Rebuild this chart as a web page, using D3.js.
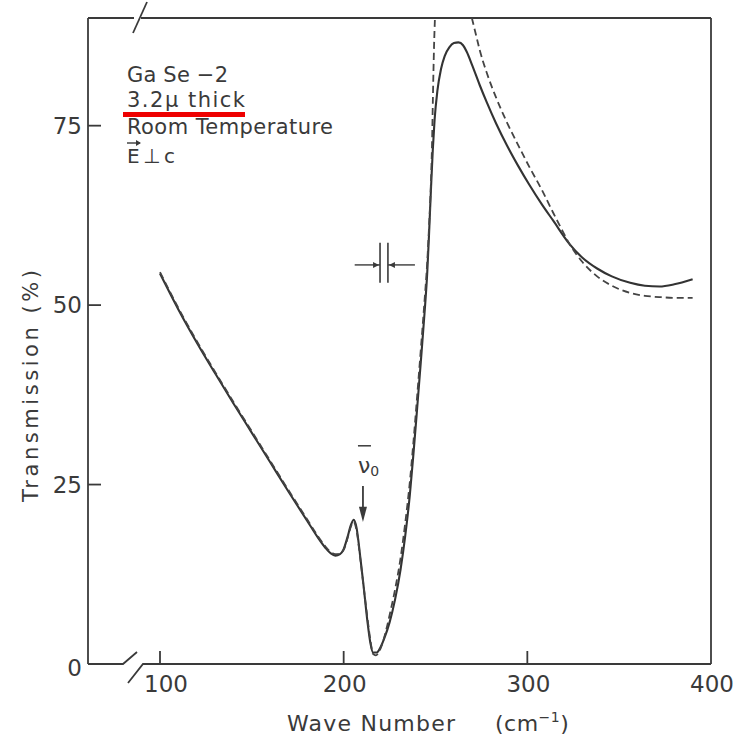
<!DOCTYPE html>
<html><head><meta charset="utf-8">
<script src="https://cdn.jsdelivr.net/npm/d3@7"></script>
<style>body{margin:0;background:#fff}</style>
</head><body><svg id="c" width="750" height="737"></svg>
<script>
// ---- data ----
const waveSolid  = [100,110,120,130,140,150,160,170,180,186,190,193,195.5,198,200,202,204,205.5,207,209,211,213,214.5,216,218,220,222,225,228,231,233.5,236,238,240,242,244,245.5,246.5,247.5,248.5,249.5,251,253,255,257.5,260,262.5,265,267,270,274,278,283,289,295,301,308,314,323,330,338,346,356,364,372,380,390];
const transSolid = [54.4,49.4,44.8,40.5,36.3,32.2,28.1,24,20,17.6,16.2,15.4,15.1,15.3,16,17.6,19.4,20.1,19,15,10.5,5.8,3,1.6,1.6,2.3,3.5,5.8,9,13.2,17.8,23.5,29.3,35.6,42.1,48.8,54.5,60,66,71.5,75.8,79.8,82.9,84.7,85.9,86.5,86.6,86.2,85.3,83.4,80.7,78.2,75.3,72.2,69.4,66.8,64,61.8,58.5,56.6,55.1,54,53.1,52.7,52.6,52.9,53.6];

const waveDashedLow  = [100,110,120,130,140,150,160,170,180,186,190,193,195.5,198,200,202,204,205.5,207,209,211,213,214.5,216,217.5,219,221,223,225,228,231,233.5,236,238,240,242,244,245.5,246.5,247.5,248.1,248.6,249.2,249.7];
const transDashedLow = [54.6,49.6,45,40.7,36.5,32.4,28.3,24.2,20.2,17.8,16.4,15.6,15.3,15.4,15.9,17.4,19.2,19.8,18.6,14.8,10.5,6.3,3.4,1.4,1.2,1.6,2.8,4.6,6.8,10.4,14.8,19.6,25.3,31,37.3,43.8,50.5,56,61,67,72.3,79,86,90];

const waveDashedHigh  = [269.8,272,274,278,283,289,295,301,308,314,318,323,330,338,346,356,364,373,382,390];
const transDashedHigh = [90,87.7,85.6,82.3,78.9,75.4,72.3,69.3,66,62.9,60.9,58.5,56,54,52.7,51.7,51.3,51.1,51,51];

const xTicks = [100,200,300,400];
const yTicks = [0,25,50,75];
const noteLines = ["Ga Se −2","3.2μ thick","Room Temperature","E ⊥ c"];
const nuZero = 210.5;             // marked wavenumber
const resolution = [219.8,224.1]; // slit-width marker

(function(){
const svg = d3.select("#c");
const x = d3.scaleLinear().domain([100,400]).range([160,711]);
const y = d3.scaleLinear().domain([0,90]).range([664,18]);
const ink = "#3a3a3a";
const font = "DejaVu Sans";
const pL = 88, pR = x(400), pT = y(90), pB = y(0);

const g = svg.append("g").attr("fill","none").attr("stroke",ink).attr("stroke-width",1.8);
g.append("line").attr("x1",pL).attr("y1",pT).attr("x2",pL).attr("y2",pB);
g.append("line").attr("x1",pR).attr("y1",pT).attr("x2",pR).attr("y2",pB);
g.append("path").attr("d",`M${pL},${pB}H${pL+35}L${pL+49},${pB-12}`);
g.append("path").attr("d",`M${pL+40},${pB+19}L${pL+55},${pB}H${pR}`);
g.append("line").attr("x1",pL).attr("y1",pT).attr("x2",pL+46).attr("y2",pT);
g.append("line").attr("x1",pL+45).attr("y1",pT+15).attr("x2",pL+59).attr("y2",pT-16);
g.append("line").attr("x1",pL+53).attr("y1",pT).attr("x2",pR).attr("y2",pT);

xTicks.filter(t=>t<400).forEach(t=>{
  g.append("line").attr("x1",x(t)).attr("x2",x(t)).attr("y1",pB).attr("y2",pB-13);
});
yTicks.filter(t=>t>0).forEach(t=>{
  g.append("line").attr("x1",pL).attr("x2",pL+13).attr("y1",y(t)).attr("y2",y(t));
});
const txt = svg.append("g").attr("fill",ink).attr("font-family",font);
xTicks.forEach(t=>{
  txt.append("text").attr("x",x(t)+(t===100?6:1)).attr("y",pB+28).attr("text-anchor","middle")
    .attr("font-size",23).text(t);
});
yTicks.forEach(t=>{
  txt.append("text").attr("x",82).attr("y",y(t)+(t===0?4:0)).attr("dy","0.36em").attr("text-anchor","end")
    .attr("font-size",23).text(t);
});
txt.append("text").attr("transform","translate(38,386) rotate(-90)").attr("text-anchor","middle")
  .attr("font-size",21).attr("textLength",232).attr("lengthAdjust","spacing")
  .text("Transmission   (%)");
txt.append("text").attr("x",287).attr("y",731).attr("font-size",22)
  .attr("textLength",168).attr("lengthAdjust","spacing").text("Wave Number");
const xt = txt.append("text").attr("x",495).attr("y",731).attr("font-size",22).attr("letter-spacing",0.5);
xt.append("tspan").text("(cm");
xt.append("tspan").attr("dy",-9).attr("font-size",14).text("−1");
xt.append("tspan").attr("dy",9).text(")");

svg.append("clipPath").attr("id","plot").append("rect")
  .attr("x",pL).attr("y",pT).attr("width",pR-pL).attr("height",pB-pT);
const line = d3.line().x(d=>x(d[0])).y(d=>y(d[1])).curve(d3.curveMonotoneX);
const plot = svg.append("g").attr("clip-path","url(#plot)").attr("fill","none");
plot.append("path").datum(waveSolid.map((w,i)=>[w,transSolid[i]]))
  .attr("d",line).attr("stroke","#333").attr("stroke-width",2.1);
plot.append("path").datum(waveDashedLow.map((w,i)=>[w,transDashedLow[i]]))
  .attr("d",line).attr("stroke","#444").attr("stroke-width",1.8).attr("stroke-dasharray","7,4");
plot.append("path").datum(waveDashedHigh.map((w,i)=>[w,transDashedHigh[i]]))
  .attr("d",line).attr("stroke","#444").attr("stroke-width",1.8).attr("stroke-dasharray","7,4");

const ax = x(nuZero);
g.append("line").attr("x1",ax).attr("x2",ax).attr("y1",y(24.8)).attr("y2",y(21.5));
svg.append("path").attr("d",`M${ax-4},${y(21.9)}L${ax+4},${y(21.9)}L${ax},${y(19.8)}Z`).attr("fill",ink);
txt.append("text").attr("x",ax-5).attr("y",y(26.6)).attr("font-size",22).text("ν")
  .append("tspan").attr("font-size",14).attr("dy",3).text("0");
g.append("line").attr("x1",ax-5).attr("x2",ax+8).attr("y1",y(30.4)).attr("y2",y(30.4)).attr("stroke-width",1.5);

const ry = y(55.6);
resolution.forEach(r=>{
  g.append("line").attr("x1",x(r)).attr("x2",x(r)).attr("y1",y(58.7)).attr("y2",y(53.1)).attr("stroke-width",1.6);
});
g.append("line").attr("x1",x(206)).attr("x2",x(resolution[0])).attr("y1",ry).attr("y2",ry).attr("stroke-width",1.4);
g.append("line").attr("x1",x(resolution[1])).attr("x2",x(238.8)).attr("y1",ry).attr("y2",ry).attr("stroke-width",1.4);
svg.append("path").attr("d",`M${x(resolution[0])-7},${ry-3}L${x(resolution[0])-1},${ry}L${x(resolution[0])-7},${ry+3}Z`).attr("fill",ink);
svg.append("path").attr("d",`M${x(resolution[1])+7},${ry-3}L${x(resolution[1])+1},${ry}L${x(resolution[1])+7},${ry+3}Z`).attr("fill",ink);

const noteY = [82,107,134,163];
const noteW = [101,118,206,48];
const noteS = [21,21,21,20];
noteLines.forEach((s,i)=>{
  txt.append("text").attr("x",127).attr("y",noteY[i]).attr("font-size",noteS[i])
    .attr("textLength",noteW[i]).attr("lengthAdjust","spacing").text(s);
});
g.append("line").attr("x1",127).attr("x2",140).attr("y1",143).attr("y2",143).attr("stroke-width",1.4);
svg.append("path").attr("d","M136,140L141,143L136,146Z").attr("fill",ink);
svg.append("rect").attr("x",123).attr("y",112).attr("width",122).attr("height",5).attr("fill","#ee0000");
})();
</script></body></html>
